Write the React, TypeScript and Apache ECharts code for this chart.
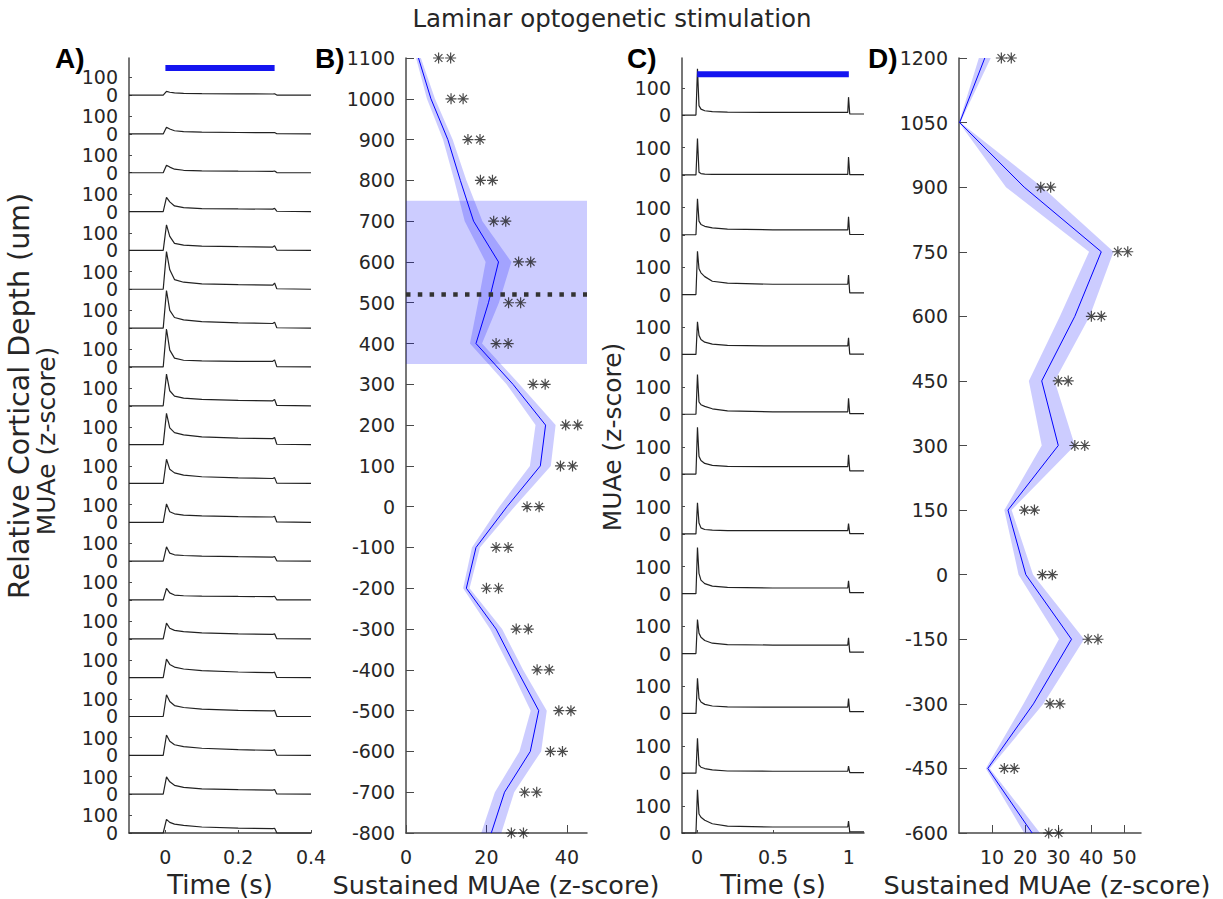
import React, { useEffect, useRef } from 'react';
import * as echarts from 'echarts';

const TITLE = 'Laminar optogenetic stimulation';
const FONT = 'DejaVu Sans';
const TXT = '#262626';
const AXC = '#4a4a4a';
const TRACE_STEP = 220;

// Panel A: time samples (s) and 20 stacked MUAe traces (z-score), top to bottom
const tA = [-0.1, -0.006, 0.003, 0.012, 0.025, 0.05, 0.1, 0.2, 0.295, 0.3, 0.306, 0.4];
const tracesA = [
  [0, 0, 21, 16, 12, 10, 8, 7, 6, 7, 0, 0],
  [0, 0, 38, 28, 18, 13, 10, 8, 7, 8, 1, 0],
  [0, 0, 43, 32, 20, 14, 11, 9, 8, 10, 1, 0],
  [0, 0, 81, 55, 32, 22, 17, 15, 14, 18, 2, 0],
  [0, 0, 145, 80, 40, 30, 24, 21, 19, 26, 2, 0],
  [0, 0, 213, 110, 55, 40, 31, 26, 23, 35, 3, 0],
  [0, 0, 213, 100, 60, 47, 37, 30, 26, 34, 2, 0],
  [0, 0, 215, 95, 50, 38, 34, 32, 32, 40, 2, 0],
  [0, 0, 179, 85, 55, 43, 36, 31, 28, 36, 2, 0],
  [0, 0, 177, 95, 68, 55, 44, 37, 34, 40, 2, 0],
  [0, 0, 137, 80, 60, 47, 38, 32, 28, 33, 2, 0],
  [0, 0, 104, 60, 48, 41, 36, 32, 30, 34, 2, 0],
  [0, 0, 81, 45, 36, 32, 28, 25, 23, 26, 2, 0],
  [0, 0, 66, 40, 28, 24, 22, 20, 19, 21, 1, 0],
  [0, 0, 89, 60, 48, 41, 34, 28, 25, 28, 1, 0],
  [0, 0, 105, 75, 60, 49, 40, 32, 28, 31, 1, 0],
  [0, 0, 123, 85, 62, 51, 42, 35, 32, 35, 1, 0],
  [0, 0, 115, 80, 60, 49, 40, 32, 28, 32, 1, 0],
  [0, 0, 98, 70, 50, 38, 30, 26, 23, 26, 1, 0],
  [0, 0, 77, 60, 50, 43, 34, 28, 25, 27, 1, 0],
];
const stimA = [0, 0.3];
const stimLevelA = 4333;
const yMaxA = 4390;
const xTicksA = [0, 0.2, 0.4];

// Panel B: depth profile
const depthB = [1100, 1000, 900, 800, 700, 600, 500, 400, 300, 200, 100, 0, -100, -200, -300, -400, -500, -600, -700, -800];
const meanB = [3.1, 6.2, 10.4, 13.5, 16.8, 23.0, 20.5, 17.4, 26.6, 34.7, 33.4, 25.1, 17.4, 15.0, 22.4, 27.6, 33.0, 30.9, 24.5, 21.2];
const semB = [0.6, 1.0, 1.2, 1.5, 2.2, 3.2, 2.6, 1.5, 1.6, 2.5, 2.6, 1.9, 1.0, 0.8, 1.5, 1.5, 2.0, 2.7, 2.4, 2.5];
const rectB = [350, 750];
const dashB = 520;
const xTicksB = [0, 20, 40];

// Panel C: time samples (s) and 13 stacked traces
const tC = [-0.1, -0.008, 0.002, 0.012, 0.025, 0.05, 0.1, 0.2, 0.5, 0.993, 0.998, 1.006, 1.1];
const tracesC = [
  [0, 0, 170, 35, 22, 16, 13, 11, 10, 10, 66, 4, 4],
  [0, 0, 134, 10, 5, 3, 2, 2, 2, 2, 66, 1, 1],
  [0, 0, 132, 50, 38, 31, 25, 21, 18, 18, 66, 1, 1],
  [0, 0, 159, 95, 80, 66, 49, 42, 38, 38, 72, 6, 6],
  [0, 0, 120, 70, 55, 45, 38, 33, 31, 31, 61, 1, 1],
  [0, 0, 146, 45, 35, 29, 20, 12, 9, 9, 59, 2, 2],
  [0, 0, 172, 65, 50, 39, 32, 28, 27, 27, 71, 12, 12],
  [0, 0, 114, 40, 22, 16, 14, 12, 12, 12, 38, 1, 1],
  [0, 0, 170, 75, 50, 37, 28, 23, 21, 21, 47, 4, 4],
  [0, 0, 125, 75, 60, 48, 38, 33, 31, 31, 58, 5, 5],
  [0, 0, 129, 55, 42, 33, 27, 24, 23, 23, 54, 6, 6],
  [0, 0, 128, 30, 22, 17, 12, 8, 7, 7, 26, 2, 2],
  [0, 0, 159, 70, 58, 47, 34, 25, 22, 22, 44, 4, 4],
];
const stimC = [0, 1];
const stimLevelC = 2790;
const yMaxC = 2850;
const xTicksC = [0, 0.5, 1];

// Panel D: depth profile
const depthD = [1200, 1050, 900, 750, 600, 450, 300, 150, 0, -150, -300, -450, -600];
const meanD = [7.8, 0.2, 19.7, 43.0, 35.0, 25.0, 30.0, 14.8, 20.2, 34.0, 22.5, 8.7, 22.1];
const semD = [1.8, 0.2, 5.5, 3.7, 4.5, 3.9, 5.0, 1.1, 2.2, 3.8, 3.0, 0.6, 2.4];
const sigD = [true, false, true, true, true, true, true, true, true, true, true, true, true];
const xTicksD = [10, 20, 30, 40, 50];

const starOffsets = [5, 8];
const STAR = 'path://M0,5L10,5M5,0L5,10M1.5,1.5L8.5,8.5M1.5,8.5L8.5,1.5';

const axisLine = { show: true, onZero: false, lineStyle: { color: AXC, width: 1.5 } };
const labelBase = { fontSize: 19, color: TXT, fontFamily: FONT, showMinLabel: true, showMaxLabel: true };
const plain = (v: number) => String(v);

function traceSeries(gi: number, t: number[], traces: number[][]) {
  const n = traces.length;
  return traces.map((vals, i) => ({
    type: 'line',
    xAxisIndex: gi,
    yAxisIndex: gi === 0 ? 0 : 3,
    data: t.map((tt, k) => [tt, vals[k] + (n - 1 - i) * TRACE_STEP]),
    showSymbol: false,
    clip: false,
    silent: true,
    lineStyle: { color: '#222', width: 1.2 },
    z: 3,
  }));
}

function baseTicks(n: number, add: number) {
  const out: number[] = [];
  for (let i = 0; i < n; i++) out.push(i * TRACE_STEP + add);
  return out;
}

function bandSeries(xi: number, yi: number, depth: number[], mean: number[], sem: number[]) {
  return {
    type: 'custom',
    xAxisIndex: xi,
    yAxisIndex: yi,
    silent: true,
    z: 2,
    data: [[mean[0], depth[0]]],
    renderItem: (params: any, api: any) => {
      const pts: number[][] = [];
      for (let i = 0; i < depth.length; i++) pts.push(api.coord([mean[i] + sem[i], depth[i]]));
      for (let i = depth.length - 1; i >= 0; i--) pts.push(api.coord([mean[i] - sem[i], depth[i]]));
      return { type: 'polygon', shape: { points: pts }, style: { fill: 'rgba(0,0,255,0.2)' } };
    },
  };
}

function starSeries(xi: number, yi: number, depth: number[], mean: number[], sig: boolean[] | null) {
  return starOffsets.map((off) => ({
    type: 'scatter',
    xAxisIndex: xi,
    yAxisIndex: yi,
    silent: true,
    z: 5,
    symbol: STAR,
    symbolSize: 11,
    itemStyle: { color: 'rgba(0,0,0,0)', borderColor: '#1e1e1e', borderWidth: 1.2 },
    data: depth.map((d, i) => (sig && !sig[i] ? null : [mean[i] + off, d])).filter((p) => p !== null),
  }));
}

function text(x: number, y: number, s: string, size: number, opts: any = {}) {
  return {
    type: 'text',
    x,
    y,
    rotation: opts.rotation || 0,
    z: 10,
    style: {
      text: s,
      fontSize: size,
      fontFamily: opts.family || FONT,
      fontWeight: opts.weight || 'normal',
      fill: opts.fill || TXT,
      align: opts.align || 'center',
      verticalAlign: 'middle',
      textAlign: opts.align || 'center',
      textVerticalAlign: 'middle',
    },
  };
}

function stackAxis(gi: number, max: number, values: number[], label: string, showLine: boolean) {
  return {
    gridIndex: gi, type: 'value', min: 0, max, position: 'left', offset: 0,
    axisLine: showLine ? axisLine : { show: false, onZero: false },
    axisTick: { show: true, inside: true, length: 3, customValues: values, lineStyle: { color: AXC } },
    axisLabel: { ...labelBase, margin: 11, customValues: values, formatter: () => label },
    splitLine: { show: false },
  };
}

export default function App() {
  const ref = useRef<HTMLDivElement>(null);
  useEffect(() => {
    if (!ref.current) return;
    const chart = echarts.init(ref.current, null, { renderer: 'svg' });
    const zerosA = baseTicks(tracesA.length, 0);
    const hundredsA = baseTicks(tracesA.length, 100);
    const zerosC = baseTicks(tracesC.length, 0);
    const hundredsC = baseTicks(tracesC.length, 100);
    const option: any = {
      animation: false,
      backgroundColor: '#ffffff',
      textStyle: { fontFamily: FONT },
      grid: [
        { left: 129, top: 58, width: 182, height: 775 },
        { left: 406, top: 58, width: 181, height: 775 },
        { left: 682, top: 58, width: 182, height: 775 },
        { left: 959, top: 58, width: 182, height: 775 },
      ],
      xAxis: [
        {
          gridIndex: 0, type: 'value', min: -0.1, max: 0.4,
          axisLine,
          axisTick: { show: true, inside: true, length: 3, customValues: xTicksA, lineStyle: { color: AXC } },
          axisLabel: { ...labelBase, margin: 14, customValues: xTicksA, formatter: plain },
          splitLine: { show: false },
        },
        {
          gridIndex: 1, type: 'value', min: 0, max: 45,
          axisLine,
          axisTick: { show: true, inside: true, length: 8, customValues: xTicksB, lineStyle: { color: AXC } },
          axisLabel: { ...labelBase, margin: 14, customValues: xTicksB, formatter: plain },
          splitLine: { show: false },
        },
        {
          gridIndex: 2, type: 'value', min: -0.1, max: 1.1,
          axisLine,
          axisTick: { show: true, inside: true, length: 3, customValues: xTicksC, lineStyle: { color: AXC } },
          axisLabel: { ...labelBase, margin: 14, customValues: xTicksC, formatter: plain },
          splitLine: { show: false },
        },
        {
          gridIndex: 3, type: 'value', min: 0, max: 55,
          axisLine,
          axisTick: { show: true, inside: true, length: 8, customValues: xTicksD, lineStyle: { color: AXC } },
          axisLabel: { ...labelBase, margin: 14, customValues: xTicksD, formatter: plain },
          splitLine: { show: false },
        },
      ],
      yAxis: [
        stackAxis(0, yMaxA, zerosA, '0', true),
        stackAxis(0, yMaxA, hundredsA, '100', false),
        {
          gridIndex: 1, type: 'value', min: -800, max: 1100, interval: 100,
          axisLine,
          axisTick: { show: true, inside: true, length: 8, lineStyle: { color: AXC } },
          axisLabel: { ...labelBase, margin: 11, formatter: plain },
          splitLine: { show: false },
        },
        stackAxis(2, yMaxC, zerosC, '0', true),
        stackAxis(2, yMaxC, hundredsC, '100', false),
        {
          gridIndex: 3, type: 'value', min: -600, max: 1200, interval: 150,
          axisLine,
          axisTick: { show: true, inside: true, length: 8, lineStyle: { color: AXC } },
          axisLabel: { ...labelBase, margin: 11, formatter: plain },
          splitLine: { show: false },
        },
      ],
      series: [
        ...traceSeries(0, tA, tracesA),
        {
          type: 'line', xAxisIndex: 0, yAxisIndex: 0, silent: true, showSymbol: false, clip: false, z: 4,
          data: stimA.map((t) => [t, stimLevelA]),
          lineStyle: { color: '#1414f0', width: 6, cap: 'butt' },
        },
        bandSeries(1, 2, depthB, meanB, semB),
        {
          type: 'line', xAxisIndex: 1, yAxisIndex: 2, silent: true, showSymbol: false, z: 3,
          data: depthB.map((d, i) => [meanB[i], d]),
          lineStyle: { color: '#0000ff', width: 1 },
          markArea: {
            silent: true,
            itemStyle: { color: 'rgba(0,0,255,0.2)' },
            data: [[{ coord: [0, rectB[1]] }, { coord: [45, rectB[0]] }]],
          },
        },
        {
          type: 'line', xAxisIndex: 1, yAxisIndex: 2, silent: true, showSymbol: false, z: 4,
          data: [[0, dashB], [45, dashB]],
          lineStyle: { color: '#333333', width: 4.5, type: [4.5, 7.3] },
        },
        ...starSeries(1, 2, depthB, meanB, null),
        ...traceSeries(2, tC, tracesC),
        {
          type: 'line', xAxisIndex: 2, yAxisIndex: 3, silent: true, showSymbol: false, clip: false, z: 4,
          data: stimC.map((t) => [t, stimLevelC]),
          lineStyle: { color: '#1414f0', width: 6, cap: 'butt' },
        },
        bandSeries(3, 5, depthD, meanD, semD),
        {
          type: 'line', xAxisIndex: 3, yAxisIndex: 5, silent: true, showSymbol: false, z: 3,
          data: depthD.map((d, i) => [meanD[i], d]),
          lineStyle: { color: '#0000ff', width: 1 },
        },
        ...starSeries(3, 5, depthD, meanD, sigD),
      ],
      graphic: [
        text(612, 18, TITLE, 24.5),
        text(55, 58, 'A)', 28, { align: 'left', weight: 'bold', family: 'Liberation Sans', fill: '#000' }),
        text(315, 58, 'B)', 28, { align: 'left', weight: 'bold', family: 'Liberation Sans', fill: '#000' }),
        text(627, 58, 'C)', 28, { align: 'left', weight: 'bold', family: 'Liberation Sans', fill: '#000' }),
        text(868, 58, 'D)', 28, { align: 'left', weight: 'bold', family: 'Liberation Sans', fill: '#000' }),
        text(220, 885, 'Time (s)', 26),
        text(496, 885, 'Sustained MUAe (z-score)', 25.5),
        text(773, 885, 'Time (s)', 26),
        text(1047, 885, 'Sustained MUAe (z-score)', 25.5),
        text(19, 396, 'Relative Cortical Depth (um)', 28.5, { rotation: Math.PI / 2 }),
        text(46, 441, 'MUAe (z-score)', 25, { rotation: Math.PI / 2 }),
        text(612, 437, 'MUAe (z-score)', 25, { rotation: Math.PI / 2 }),
      ],
    };
    chart.setOption(option);
    return () => chart.dispose();
  }, []);
  return (
    <div
      ref={ref}
      style={{ position: 'fixed', left: 0, top: 0, width: 1223, height: 899, background: '#fff' }}
    />
  );
}
